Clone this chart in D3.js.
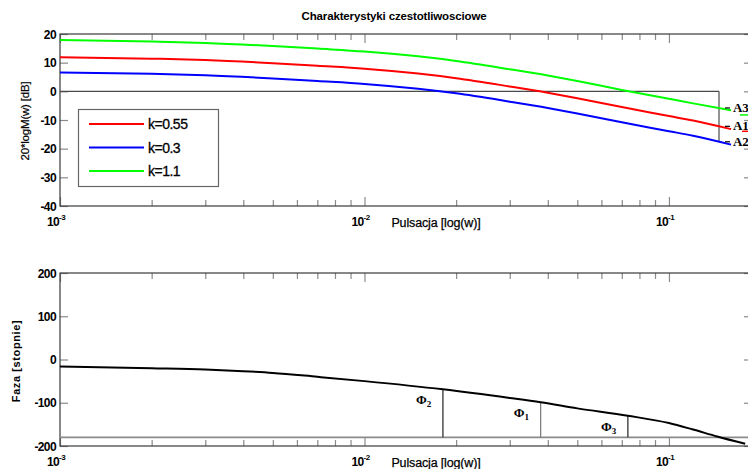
<!DOCTYPE html>
<html>
<head>
<meta charset="utf-8">
<script src="https://cdn.jsdelivr.net/npm/d3@7"></script>
<style>
  body { margin: 0; background: #fff; }
  svg text { font-family: "Liberation Sans", Arial, sans-serif; fill: #000; }
  .serif { font-family: "Liberation Serif", "Times New Roman", serif; font-weight: bold; }
</style>
</head>
<body>
<div id="chart"></div>
<script>
// amplitude characteristics, 20*log10(M) [dB]
const freq    = [0.001, 0.002, 0.003, 0.005, 0.007, 0.01, 0.015, 0.02, 0.03, 0.04, 0.05, 0.07, 0.1, 0.12, 0.16]
const magK055 = [11.9, 11.4, 10.9, 9.8, 8.9, 7.9, 6.2, 4.6, 1.7, -0.5, -2.4, -5.5, -8.6, -10.2, -13.2]
const magK03  = [6.6, 6.1, 5.6, 4.5, 3.6, 2.6, 0.9, -0.7, -3.6, -5.8, -7.7, -10.8, -13.9, -15.5, -18.6]
const magK11  = [17.9, 17.4, 16.9, 15.8, 14.9, 13.9, 12.2, 10.6, 7.7, 5.5, 3.6, 0.5, -2.6, -4.2, -6.6]
const legendLabels = ["k=0.55", "k=0.3", "k=1.1"]

// phase characteristic [deg]
const freqPhase = [0.001, 0.002, 0.003, 0.004, 0.005, 0.007, 0.01, 0.0181, 0.03, 0.0379, 0.05, 0.0733, 0.1, 0.12, 0.144, 0.178]
const phase     = [-16, -20, -23, -27, -31, -40, -50, -69, -89, -99, -113, -130, -147, -162, -178, -195]

// margins
const phaseCross = 0.146                     // w where phase = -180
const gainMarginLabels = ["A1", "A2", "A3"]
const gainMarginDb = [-12.2, -17.6, -5.8]
const gainCross = [0.0379, 0.0181, 0.0733]   // w where |G| = 0 dB
const gainCrossPhase = [-99, -69, -130]
const phaseMarginLabels = ["1", "2", "3"]

const yTicksMag = [20, 10, 0, -10, -20, -30, -40]
const yTicksPhase = [200, 100, 0, -100, -200]
const xMajor = [0.001, 0.01, 0.1]
const xExp = ["-3", "-2", "-1"]

const colors = ["#ff0000", "#0000ff", "#00ff00"]
const width = 748, height = 469
const left = 60, right = 752

var svg = d3.select("#chart").append("svg")
    .attr("width", width).attr("height", height)

svg.append("defs").append("clipPath").attr("id", "clipTop")
  .append("rect").attr("x", left).attr("y", 34).attr("width", right - left).attr("height", 172)
svg.select("defs").append("clipPath").attr("id", "clipBot")
  .append("rect").attr("x", left).attr("y", 273).attr("width", right - left).attr("height", 173)

var x = d3.scaleLog().domain([0.001, 0.1874]).range([left, right])
var yMag = d3.scaleLinear().domain([-40, 20]).range([206, 34])
var yPh = d3.scaleLinear().domain([-200, 200]).range([446, 273])

var minor = []
;[0.001, 0.01, 0.1].forEach(d => { for (let i = 2; i <= 9; i++) minor.push(d * i) })
minor = minor.filter(v => v < 0.1874)

function frame(y, top, bottom, yTicks) {
  var g = svg.append("g")
  // ticks (inward, on all four sides)
  var tk = [
    [d3.axisBottom(x).tickValues(minor).tickSize(-6), "translate(0," + bottom + ")"],
    [d3.axisBottom(x).tickValues(xMajor).tickSize(-9), "translate(0," + bottom + ")"],
    [d3.axisTop(x).tickValues(minor).tickSize(-6), "translate(0," + top + ")"],
    [d3.axisTop(x).tickValues(xMajor).tickSize(-9), "translate(0," + top + ")"],
    [d3.axisLeft(y).tickValues(yTicks).tickSize(-8), "translate(" + left + ",0)"],
    [d3.axisRight(y).tickValues(yTicks).tickSize(-8), "translate(" + right + ",0)"]
  ]
  tk.forEach(t => {
    var a = g.append("g").attr("transform", t[1]).call(t[0].tickFormat(""))
    a.select(".domain").remove()
    a.selectAll("line").attr("stroke", "#8a8a8a").attr("stroke-width", 1.2)
  })
  // box
  g.append("rect").attr("x", left).attr("y", top).attr("width", right - left).attr("height", bottom - top)
    .attr("fill", "none").attr("stroke", "#3a3a3a").attr("stroke-width", 1.2)
  // y labels
  g.selectAll(".yl").data(yTicks).enter().append("text")
    .attr("x", left - 4).attr("y", d => y(d) + 4.5)
    .attr("text-anchor", "end").attr("font-size", 12).attr("font-weight", "bold")
    .attr("letter-spacing", -0.6)
    .text(d => d)
  // x labels with superscript
  var xl = g.selectAll(".xl").data(xMajor).enter().append("text")
    .attr("x", d => x(d) - 4).attr("y", bottom + 20)
    .attr("text-anchor", "middle").attr("font-size", 12).attr("font-weight", "bold")
    .attr("letter-spacing", -0.6)
  xl.append("tspan").text("10")
  xl.append("tspan").attr("dy", -6).attr("font-size", 8).text((d, i) => xExp[i])
  g.append("text").attr("x", 436).attr("y", bottom + 21)
    .attr("text-anchor", "middle").attr("font-size", 12.5).attr("letter-spacing", -0.15)
    .attr("stroke", "#000").attr("stroke-width", 0.25)
    .text("Pulsacja [log(w)]")
}

// ---------- top: magnitude ----------
svg.append("text").attr("x", 394).attr("y", 20).attr("text-anchor", "middle")
  .attr("font-size", 11.5).attr("font-weight", "bold").attr("letter-spacing", -0.15)
  .text("Charakterystyki czestotliwosciowe")

frame(yMag, 34, 206, yTicksMag)

svg.append("text").attr("transform", "translate(29,121) rotate(-90)")
  .attr("text-anchor", "middle").attr("font-size", 11.5).attr("letter-spacing", -0.2)
  .attr("stroke", "#000").attr("stroke-width", 0.2)
  .text("20*logM(w) [dB]")

var topG = svg.append("g").attr("clip-path", "url(#clipTop)")

// 0 dB line up to phase crossover and vertical marker
topG.append("line").attr("x1", left).attr("x2", x(phaseCross))
  .attr("y1", yMag(0)).attr("y2", yMag(0)).attr("stroke", "#4a4a4a").attr("stroke-width", 1.3)
topG.append("line").attr("x1", x(phaseCross)).attr("x2", x(phaseCross))
  .attr("y1", yMag(0)).attr("y2", yMag(d3.min(gainMarginDb))).attr("stroke", "#4a4a4a").attr("stroke-width", 1.2)

var magLine = d3.line().x((d, i) => x(freq[i])).y(d => yMag(d)).curve(d3.curveMonotoneX)
;[magK055, magK03, magK11].forEach((s, i) => {
  topG.append("path").datum(s).attr("d", magLine)
    .attr("fill", "none").attr("stroke", colors[i]).attr("stroke-width", 2)
})

// gain margin labels
var gm = svg.append("g")
gainMarginLabels.forEach((lab, i) => {
  var yy = yMag(gainMarginDb[i])
  gm.append("line").attr("x1", x(phaseCross) + 6).attr("x2", x(phaseCross) + 11)
    .attr("y1", yy).attr("y2", yy).attr("stroke", "#000").attr("stroke-width", 1.2)
  gm.append("text").attr("class", "serif").attr("x", x(phaseCross) + 14).attr("y", yy + 4)
    .attr("font-size", 13).text(lab)
})
gm.append("line").attr("x1", 740).attr("x2", 748).attr("y1", yMag(gainMarginDb[2]) + 7).attr("y2", yMag(gainMarginDb[2]) + 7)
  .attr("stroke", colors[2]).attr("stroke-width", 1.5)
gm.append("line").attr("x1", 742).attr("x2", 748).attr("y1", yMag(gainMarginDb[0]) + 5).attr("y2", yMag(gainMarginDb[0]) + 5)
  .attr("stroke", colors[0]).attr("stroke-width", 1.5)

// legend
var lg = svg.append("g")
lg.append("rect").attr("x", 78.5).attr("y", 109.5).attr("width", 140).attr("height", 77)
  .attr("fill", "#fff").attr("stroke", "#666").attr("stroke-width", 1.2)
legendLabels.forEach((lab, i) => {
  var yy = 124 + i * 23.5
  lg.append("line").attr("x1", 89).attr("x2", 144).attr("y1", yy).attr("y2", yy)
    .attr("stroke", colors[i]).attr("stroke-width", 2)
  lg.append("text").attr("x", 148).attr("y", yy + 5).attr("font-size", 14)
    .attr("letter-spacing", -0.5).attr("stroke", "#000").attr("stroke-width", 0.3).text(lab)
})

// ---------- bottom: phase ----------
frame(yPh, 273, 446, yTicksPhase)

svg.append("text").attr("transform", "translate(20,361) rotate(-90)")
  .attr("text-anchor", "middle").attr("font-size", 11).attr("font-weight", "bold")
  .attr("letter-spacing", 0.6)
  .text("Faza [stopnie]")

var botG = svg.append("g").attr("clip-path", "url(#clipBot)")
botG.append("line").attr("x1", left).attr("x2", right).attr("y1", yPh(-180)).attr("y2", yPh(-180))
  .attr("stroke", "#8a8a8a").attr("stroke-width", 1.6)

gainCross.forEach((w, i) => {
  botG.append("line").attr("x1", x(w)).attr("x2", x(w))
    .attr("y1", yPh(gainCrossPhase[i])).attr("y2", yPh(-180))
    .attr("stroke", i === 0 ? "#777" : "#222").attr("stroke-width", 1.2)
  var t = svg.append("text").attr("class", "serif")
    .attr("x", x(w) - 27).attr("y", yPh(gainCrossPhase[i]) + 15).attr("font-size", 13)
  t.append("tspan").text("\u03a6")
  t.append("tspan").attr("dy", 3).attr("font-size", 9).text(phaseMarginLabels[i])
})

var phLine = d3.line().x((d, i) => x(freqPhase[i])).y(d => yPh(d)).curve(d3.curveMonotoneX)
botG.append("path").datum(phase).attr("d", phLine)
  .attr("fill", "none").attr("stroke", "#000").attr("stroke-width", 2)
</script>
</body>
</html>
